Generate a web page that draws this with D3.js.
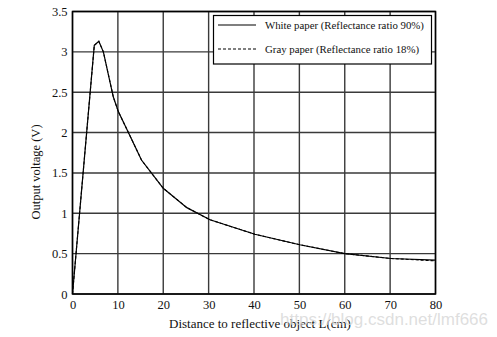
<!DOCTYPE html>
<html><head><meta charset="utf-8">
<script src="https://cdn.jsdelivr.net/npm/d3@7"></script>
<style>body{margin:0;background:#fff}svg{display:block}</style>
</head><body>
<svg id="c" width="497" height="337"></svg>
<script>
const distances = [0, 4.8, 5.8, 6.8, 9.0, 10.1, 12.5, 15.2, 20, 25.2, 30.3, 40.2, 50.1, 60, 70.2, 80];
const whitePaper = [0, 3.08, 3.13, 3.0, 2.44, 2.26, 1.98, 1.66, 1.31, 1.07, 0.92, 0.74, 0.61, 0.50, 0.44, 0.42];
const grayPaper  = [0, 3.08, 3.13, 3.0, 2.44, 2.26, 1.98, 1.66, 1.31, 1.07, 0.92, 0.74, 0.61, 0.50, 0.44, 0.41];
const xTicks = [0, 10, 20, 30, 40, 50, 60, 70, 80];
const yTicks = [0, 0.5, 1, 1.5, 2, 2.5, 3, 3.5];
const seriesNames = ["White paper (Reflectance ratio 90%)", "Gray paper (Reflectance ratio 18%)"];

const svg = d3.select("#c");
const font = "'Liberation Serif', 'DejaVu Serif', serif";
const x = d3.scaleLinear().domain([0, 80]).range([72.5, 435.5]);
const y = d3.scaleLinear().domain([0, 3.5]).range([294, 11.5]);

// grid
const g = svg.append("g");
g.selectAll(".vx").data(xTicks).join("line")
  .attr("x1", d => x(d)).attr("x2", d => x(d)).attr("y1", y(0)).attr("y2", y(3.5))
  .attr("stroke", "#3a3a3a").attr("stroke-width", 1.4);
g.selectAll(".hy").data(yTicks).join("line")
  .attr("x1", x(0)).attr("x2", x(80)).attr("y1", d => y(d)).attr("y2", d => y(d))
  .attr("stroke", "#3a3a3a").attr("stroke-width", 1.4);
g.append("rect").attr("x", x(0)).attr("y", y(3.5)).attr("width", x(80) - x(0)).attr("height", y(0) - y(3.5))
  .attr("fill", "none").attr("stroke", "#000").attr("stroke-width", 1.5);

// axes
const xAxis = svg.append("g").attr("transform", `translate(0,${y(0)})`)
  .call(d3.axisBottom(x).tickValues(xTicks).tickSize(0).tickPadding(6).tickFormat(d3.format("d")));
const yAxis = svg.append("g").attr("transform", `translate(${x(0)},0)`)
  .call(d3.axisLeft(y).tickValues(yTicks).tickSize(0).tickPadding(5).tickFormat(d => d));
[xAxis, yAxis].forEach(a => {
  a.select(".domain").remove();
  a.selectAll("text").attr("font-family", font).attr("font-size", 12.5).attr("fill", "#111");
});

// lines
const lineGen = d3.line().x((d, i) => x(distances[i])).y(d => y(d));
svg.append("path").datum(grayPaper).attr("d", lineGen).attr("fill", "none")
  .attr("stroke", "#000").attr("stroke-width", 1.1).attr("stroke-dasharray", "3,2");
svg.append("path").datum(whitePaper).attr("d", lineGen).attr("fill", "none")
  .attr("stroke", "#000").attr("stroke-width", 1.2);

// legend
const lg = svg.append("g");
lg.append("rect").attr("x", 213.5).attr("y", 15.5).attr("width", 218).attr("height", 48.5)
  .attr("fill", "#fff").attr("stroke", "#000").attr("stroke-width", 1.2);
const items = [{name: seriesNames[0], dash: null, yy: 25}, {name: seriesNames[1], dash: "3,2", yy: 49}];
items.forEach(it => {
  lg.append("line").attr("x1", 218).attr("x2", 256).attr("y1", it.yy).attr("y2", it.yy)
    .attr("stroke", "#000").attr("stroke-width", 1.2).attr("stroke-dasharray", it.dash);
  lg.append("text").attr("x", 265).attr("y", it.yy + 4).attr("font-family", font)
    .attr("font-size", 10.8).attr("fill", "#111").text(it.name);
});

// axis titles
svg.append("text").attr("x", 260).attr("y", 328).attr("text-anchor", "middle")
  .attr("font-family", font).attr("font-size", 13).attr("fill", "#111")
  .text("Distance to reflective object L(cm)");
svg.append("text").attr("transform", "translate(40,172) rotate(-90)").attr("text-anchor", "middle")
  .attr("font-family", font).attr("font-size", 12.5).attr("fill", "#111")
  .text("Output voltage (V)");

// watermark
svg.append("text").attr("x", 488).attr("y", 325).attr("text-anchor", "end")
  .attr("font-family", "'Liberation Sans', Arial, sans-serif").attr("font-size", 17)
  .attr("fill", "#d6d6d6").attr("fill-opacity", 0.8).text("https://blog.csdn.net/lmf666");
</script>
</body></html>
